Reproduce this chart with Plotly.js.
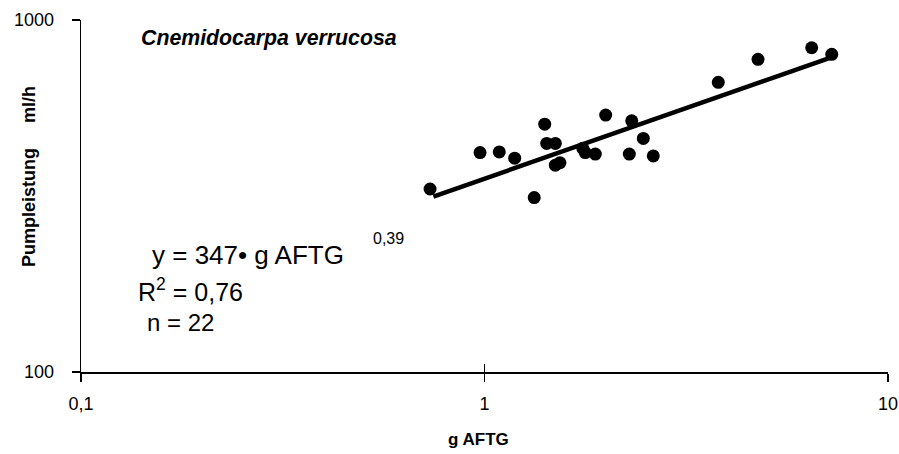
<!DOCTYPE html>
<html>
<head>
<meta charset="utf-8">
<script src="https://cdn.plot.ly/plotly-3.0.1.min.js"></script>
<style>html,body{margin:0;padding:0;background:#fff;}#chart{width:899px;height:454px;}</style>
</head>
<body>
<div id="chart"></div>
<script>
// Data (g AFTG vs. Pumpleistung ml/h)
const massAFTG = [0.733, 0.975, 1.088, 1.188, 1.410, 1.426, 1.498, 1.498, 1.538, 1.328, 1.752,
                  1.777, 1.882, 1.997, 2.285, 2.317, 2.475, 2.620, 3.797, 4.763, 6.470, 7.254];
const pumpRate = [331, 420, 422, 405, 506, 446, 446, 387, 393, 313, 432,
                  420, 416, 537, 416, 517, 461, 411, 665, 773, 834, 799];
// Regression line end points (y = 347 * x^0.39)
const fitX = [0.747, 7.18];
const fitY = [315, 781];
const xTickVals = [0.1, 1, 10];
const xTickText = ['0,1', '1', '10'];
const yTickVals = [100, 1000];
const yTickText = ['100', '1000'];

const L = 81, R = 11, T = 20, B = 82, W = 899, H = 454;
const pw = W - L - R, ph = H - T - B;
const px = x => (x - L) / pw;
const py = y => (H - B - y) / ph;

const font = 'Arial, "Liberation Sans", Helvetica, sans-serif';

const traces = [
  {x: fitX, y: fitY, mode: 'lines', type: 'scatter',
   line: {color: '#000', width: 4.5}, hoverinfo: 'skip', showlegend: false},
  {x: massAFTG, y: pumpRate, mode: 'markers', type: 'scatter',
   marker: {color: '#000', size: 13}, showlegend: false},
  // invisible carrier so the overlay axes (inner half of crossing ticks) are drawn
  {x: [1], y: [100], xaxis: 'x2', yaxis: 'y2', mode: 'markers', type: 'scatter',
   marker: {opacity: 0, size: 1}, hoverinfo: 'skip', showlegend: false}
];

const tickFont = {size: 18, family: font, color: '#000'};

const layout = {
  width: W, height: H,
  margin: {l: L, r: R, t: T, b: B},
  paper_bgcolor: '#fff', plot_bgcolor: '#fff',
  separators: ',.',
  showlegend: false,
  font: {family: font, color: '#000'},
  xaxis: {
    type: 'log', range: [-1, 1],
    tickvals: xTickVals, ticktext: xTickText,
    ticks: 'outside', ticklen: 8, tickwidth: 1.3, tickcolor: '#000',
    showline: true, linecolor: '#000', linewidth: 2,
    showgrid: false, zeroline: false,
    tickfont: tickFont, ticklabelstandoff: 6
  },
  yaxis: {
    type: 'log', range: [2, 3],
    tickvals: yTickVals, ticktext: yTickText,
    ticks: 'outside', ticklen: 8, tickwidth: 1.3, tickcolor: '#000',
    showline: true, linecolor: '#000', linewidth: 1.3,
    showgrid: false, zeroline: false,
    tickfont: tickFont, ticklabelstandoff: 14
  },
  xaxis2: {
    type: 'log', range: [-1, 1], overlaying: 'x', anchor: 'y', side: 'bottom',
    tickvals: xTickVals, ticks: 'inside', ticklen: 8, tickwidth: 1.3, tickcolor: '#000',
    showticklabels: false, showline: false, showgrid: false, zeroline: false
  },
  yaxis2: {
    type: 'log', range: [2, 3], overlaying: 'y', anchor: 'x', side: 'left',
    tickvals: yTickVals, ticks: 'inside', ticklen: 8, tickwidth: 1.3, tickcolor: '#000',
    showticklabels: false, showline: false, showgrid: false, zeroline: false
  },
  annotations: [
    {xref: 'paper', yref: 'paper', x: px(139), y: py(38), xanchor: 'left', yanchor: 'middle',
     text: '<b><i>Cnemidocarpa verrucosa</i></b>', showarrow: false,
     font: {size: 21.3, family: font, color: '#000'}},
    {xref: 'paper', yref: 'paper', x: px(150), y: py(255), xanchor: 'left', yanchor: 'middle',
     text: 'y = 347•&nbsp;g AFTG', showarrow: false, font: {size: 26, family: font, color: '#000'}},
    {xref: 'paper', yref: 'paper', x: px(371), y: py(238), xanchor: 'left', yanchor: 'middle',
     text: '0,39', showarrow: false, font: {size: 16, family: font, color: '#000'}},
    {xref: 'paper', yref: 'paper', x: px(136), y: py(290), xanchor: 'left', yanchor: 'middle',
     text: 'R<sup>2</sup> = 0,76', showarrow: false, font: {size: 25, family: font, color: '#000'}},
    {xref: 'paper', yref: 'paper', x: px(145), y: py(322), xanchor: 'left', yanchor: 'middle',
     text: 'n = 22', showarrow: false, font: {size: 24, family: font, color: '#000'}},
    {xref: 'paper', yref: 'paper', x: px(478), y: py(439), xanchor: 'center', yanchor: 'middle',
     text: '<b>g AFTG</b>', showarrow: false, font: {size: 17, family: font, color: '#000'}},
    {xref: 'paper', yref: 'paper', x: px(29), y: py(177), xanchor: 'center', yanchor: 'middle',
     textangle: -90, text: '<b>Pumpleistung     ml/h</b>', showarrow: false,
     font: {size: 18, family: font, color: '#000'}}
  ]
};

Plotly.newPlot('chart', traces, layout, {displayModeBar: false, staticPlot: true});
</script>
</body>
</html>
